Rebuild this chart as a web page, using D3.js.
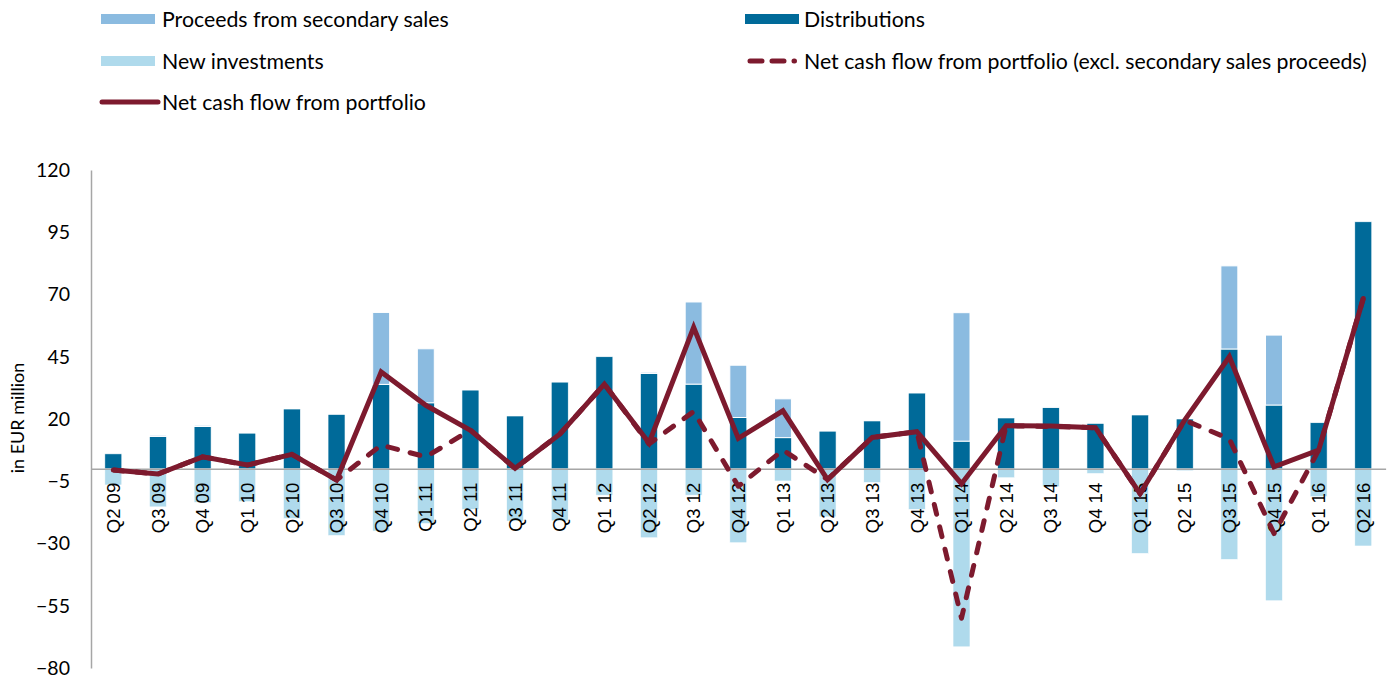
<!DOCTYPE html>
<html>
<head>
<meta charset="utf-8">
<script src="https://cdn.jsdelivr.net/npm/d3@7/dist/d3.min.js"></script>
<style>
  html, body { margin: 0; padding: 0; background: #fff; }
  svg { display: block; }
</style>
</head>
<body>
<svg id="chart" width="1397" height="679"></svg>
<script>
const quarters = ["Q2 09","Q3 09","Q4 09","Q1 10","Q2 10","Q3 10","Q4 10","Q1 11","Q2 11","Q3 11","Q4 11","Q1 12","Q2 12","Q3 12","Q4 12","Q1 13","Q2 13","Q3 13","Q4 13","Q1 14","Q2 14","Q3 14","Q4 14","Q1 15","Q2 15","Q3 15","Q4 15","Q1 16","Q2 16"];
const distributions = [6, 13, 17, 14.3, 24, 21.8, 33.9, 26.5, 31.6, 21.2, 34.8, 45, 38.3, 34, 20.6, 12.5, 15.1, 19.2, 30.4, 11.1, 20.4, 24.7, 18.2, 21.6, 20, 48.1, 25.6, 18.5, 99.2];
const secondaryProceeds = [0, 0.5, 0.5, 0, 0, 0, 28.9, 21.7, 0, 0, 0, 0, 0.5, 33, 21, 15.6, 0, 0, 0, 51.6, 0, 0.3, 0, 0, 0, 33.4, 28.1, 0, 0];
const newInvestments = [-6.5, -15.3, -13.5, -13.2, -20, -26.8, -25, -22, -16.3, -21, -20.9, -10.6, -27.7, -10.6, -29.7, -4.9, -19.3, -5.5, -16.3, -71.5, -3.6, -7.2, -1.9, -34, -0.8, -36.4, -53, -11.2, -31];
const netCashFlow = [-0.5, -2.1, 4.8, 1.5, 5.8, -4.5, 38.9, 25.5, 15.5, 0.2, 13.9, 34, 10.4, 56.8, 12.2, 23.3, -4.3, 12.6, 14.9, -6, 17.3, 17.2, 16.5, -10, 19.6, 45, 0.8, 7.5, 68.4];
const netCashFlowExclSecondary = [-0.5, -2.1, 4.8, 1.5, 5.8, -4.5, 9.5, 4.8, 15.5, 0.2, 13.9, 34, 10, 23, -7, 7.5, -4.3, 12.6, 14.9, -60, 17.3, 17, 16.5, -10, 19.5, 12, -26, 7.5, 68.4];
const yTicks = [120, 95, 70, 45, 20, -5, -30, -55, -80];

const colDist = "#006a99", colProc = "#8bbbe0", colNew = "#afdaec", colLine = "#7d1a2e", colAxis = "#a6a6a6";
const fontSans = "Lato, 'Open Sans', sans-serif";

const svg = d3.select("#chart");
const plotLeft = 91, plotRight = 1385.6, plotTop = 170, plotBottom = 668;

const x = d3.scaleBand().domain(quarters).range([plotLeft, plotRight]).paddingInner(0.62).paddingOuter(0.31);
const y = d3.scaleLinear().domain([-80, 120]).range([plotBottom, plotTop]);
const cx = q => x(q) + x.bandwidth() / 2;

// bars
const g = svg.append("g");
g.selectAll("rect.new").data(quarters).join("rect").attr("class","new")
  .attr("x", d => x(d)).attr("width", x.bandwidth())
  .attr("y", (d,i) => y(0)).attr("height", (d,i) => y(newInvestments[i]) - y(0))
  .attr("fill", colNew).attr("stroke","#fff").attr("stroke-width",0.6);
g.selectAll("rect.dist").data(quarters).join("rect").attr("class","dist")
  .attr("x", d => x(d)).attr("width", x.bandwidth())
  .attr("y", (d,i) => y(distributions[i])).attr("height", (d,i) => y(0) - y(distributions[i]))
  .attr("fill", colDist).attr("stroke","#fff").attr("stroke-width",0.6);
g.selectAll("rect.proc").data(quarters).join("rect").attr("class","proc")
  .attr("x", d => x(d)).attr("width", x.bandwidth())
  .attr("y", (d,i) => y(distributions[i] + secondaryProceeds[i]))
  .attr("height", (d,i) => y(distributions[i]) - y(distributions[i] + secondaryProceeds[i]))
  .attr("fill", colProc).attr("stroke","#fff").attr("stroke-width",1);

// y axis
const yAxis = svg.append("g").attr("transform", `translate(${plotLeft},0)`)
  .call(d3.axisLeft(y).tickValues(yTicks).tickSize(0).tickSizeOuter(0).tickPadding(21).tickFormat(d3.format("d")));
yAxis.select(".domain").attr("stroke", colAxis).attr("stroke-width", 1.5);
yAxis.selectAll("text").attr("font-family", fontSans).attr("font-size", 19.5).attr("fill", "#000");

// x axis at zero
const xAxis = svg.append("g").attr("transform", `translate(0,${y(0)})`)
  .call(d3.axisBottom(x).tickSize(0).tickSizeOuter(0));
xAxis.select(".domain").attr("stroke", colAxis).attr("stroke-width", 1.5);
xAxis.selectAll("text")
  .attr("transform", "rotate(-90)").attr("text-anchor", "end")
  .attr("x", -14).attr("y", 0).attr("dy", "0.36em")
  .attr("font-family", "'Liberation Sans', Arial, sans-serif").attr("font-size", 18.5).attr("fill", "#000");

// lines
const line = d3.line().x((d,i) => cx(quarters[i])).y(d => y(d));
svg.append("path").datum(netCashFlowExclSecondary).attr("d", line)
  .attr("fill","none").attr("stroke", colLine).attr("stroke-width", 5)
  .attr("stroke-dasharray", "10 13").attr("stroke-linecap","round").attr("stroke-linejoin","round");
svg.append("path").datum(netCashFlow).attr("d", line)
  .attr("fill","none").attr("stroke", colLine).attr("stroke-width", 5)
  .attr("stroke-linejoin","miter").attr("stroke-miterlimit", 3);

// y title
svg.append("text").attr("transform", "translate(17,418) rotate(-90)")
  .attr("text-anchor","middle").attr("dominant-baseline","central")
  .attr("font-family", fontSans).attr("font-size", 18).attr("fill","#000").text("in EUR million");

// legend
const leg = svg.append("g").attr("font-family", fontSans).attr("font-size", 21.3);
const legItems = [
  {label: "Proceeds from secondary sales", type: "rect", color: colProc, sx: 101, tx: 162, ty: 19},
  {label: "New investments", type: "rect", color: colNew, sx: 101, tx: 162, ty: 61},
  {label: "Net cash flow from portfolio", type: "line", sx: 100, tx: 162, ty: 102},
  {label: "Distributions", type: "rect", color: colDist, sx: 745, tx: 804, ty: 19},
  {label: "Net cash flow from portfolio (excl. secondary sales proceeds)", type: "dash", sx: 743, tx: 804, ty: 61}
];
legItems.forEach(it => {
  if (it.type === "rect") {
    leg.append("rect").attr("x", it.sx).attr("y", it.ty - 5).attr("width", 54).attr("height", 10).attr("fill", it.color);
  } else if (it.type === "line") {
    leg.append("line").attr("x1", it.sx + 2).attr("x2", it.sx + 58).attr("y1", it.ty).attr("y2", it.ty)
      .attr("stroke", colLine).attr("stroke-width", 5).attr("stroke-linecap","round");
  } else {
    leg.append("line").attr("x1", it.sx + 7).attr("x2", it.sx + 51.5).attr("y1", it.ty).attr("y2", it.ty)
      .attr("stroke", colLine).attr("stroke-width", 5).attr("stroke-linecap","round").attr("stroke-dasharray","12 10");
  }
  leg.append("text").attr("x", it.tx).attr("y", it.ty).attr("dominant-baseline","central").attr("fill","#000").text(it.label);
});
</script>
</body>
</html>
